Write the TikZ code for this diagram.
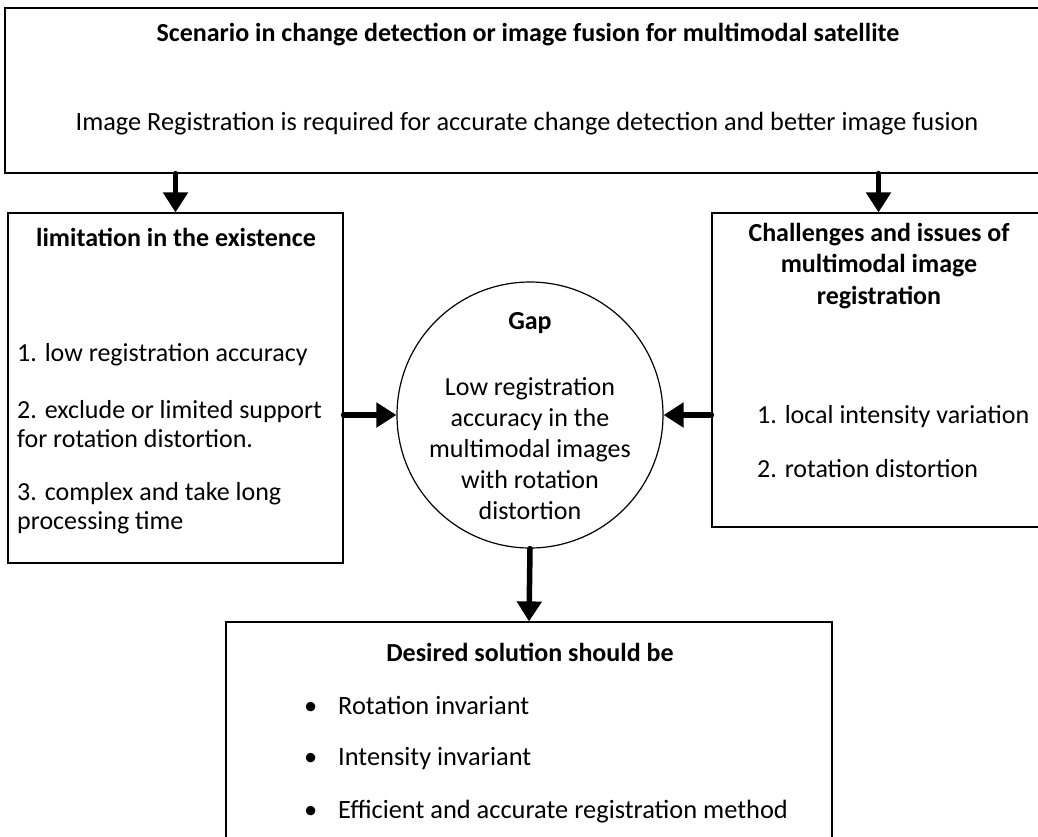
\documentclass[tikz,border=0pt]{standalone}
\usepackage{fontspec}
\setmainfont{Carlito}
\usetikzlibrary{arrows.meta}
\begin{document}
\begin{tikzpicture}[x=1pt,y=-1pt,
  box/.style={draw,line width=1.2pt,inner sep=0pt},
  txt/.style={inner sep=0pt,align=left,font=\fontsize{26}{29}\selectfont},
  hd/.style={inner sep=0pt,align=center,font=\fontsize{26}{31.5}\selectfont\bfseries},
  big/.style={line width=5.5pt,line cap=round,-{Triangle[width=24pt,length=20pt]}}]

\useasboundingbox (0,0) rectangle (1038,836);
\clip (0,0) rectangle (1038,836);
  \node[box,minimum width=1040,minimum height=165] (scen) at (525,90.5) {};
  \node[box,minimum width=335,minimum height=350] (lim) at (175.5,388) {};
  \node[box,minimum width=333,minimum height=314] (chal) at (878.5,370) {};
  \node[box,circle,minimum size=266] (gap) at (530,415) {};
  \node[box,minimum width=606,minimum height=228] (sol) at (529,736) {};

  \node[hd] (s1) at (528,35) {Scenario in change detection or image fusion for multimodal satellite};
  \node[txt,font=\fontsize{26.3}{29}\selectfont] (s2) at (527,124) {Image Registration is required for accurate change detection and better image fusion};

  \node[hd] (l0) at (176,237) {limitation in the existence};
  \node[txt,anchor=west] (l1) at (17,355) {1. low registration accuracy};
  \node[txt,anchor=west] (l2) at (17,424) {2. exclude or limited support\\for rotation distortion.};
  \node[txt,anchor=west] (l3) at (17,508) {3. complex and take long\\processing time};

  \node[hd] (c0) at (879,266) {Challenges and issues of\\multimodal image\\registration};
  \node[txt,anchor=west] (c1) at (757,417) {1. local intensity variation};
  \node[txt,anchor=west] (c2) at (757,469) {2. rotation distortion};

  \node[hd] (g0) at (530,323) {Gap};
  \node[txt,align=center,font=\fontsize{26}{31}\selectfont] (g1) at (530,449)
    {Low registration\\accuracy in the\\multimodal images\\with rotation\\distortion};

  \node[hd] (d0) at (530,652) {Desired solution should be};
  \node[txt,anchor=west,font=\fontsize{26.4}{29}\selectfont] (d1) at (304,705) {\makebox[34pt][l]{\textbullet}Rotation invariant};
  \node[txt,anchor=west,font=\fontsize{26.4}{29}\selectfont] (d2) at (304,759) {\makebox[34pt][l]{\textbullet}Intensity invariant};
  \node[txt,anchor=west,font=\fontsize{26.4}{29}\selectfont] (d3) at (304,812) {\makebox[34pt][l]{\textbullet}Efficient and accurate registration method};

  \draw[big] (scen.south -| lim.north) -- (lim.north);
  \draw[big] (scen.south -| chal.north) -- (chal.north);
  \draw[big] (gap.west -| lim.east) -- (gap.west);
  \draw[big] (gap.east -| chal.west) -- (gap.east);
  \draw[big] (gap.south) -- (sol.north);
\end{tikzpicture}
\end{document}
